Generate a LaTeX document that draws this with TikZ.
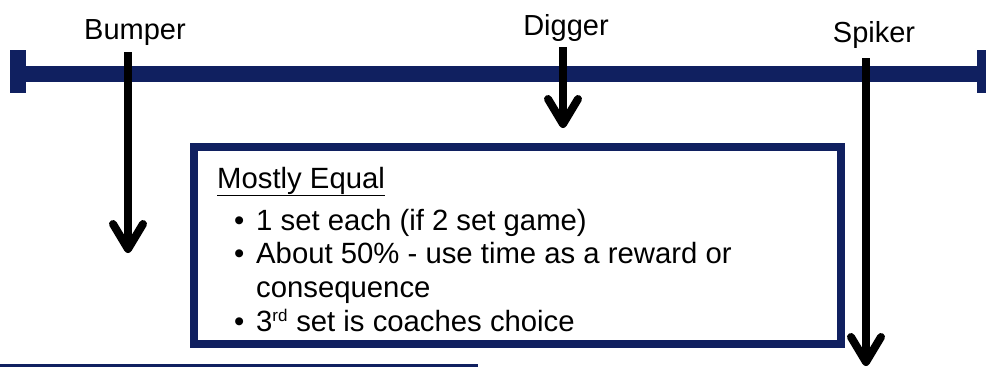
\documentclass[tikz,border=0pt]{standalone}
\usepackage{fontspec}
\setmainfont{Liberation Sans}
\usetikzlibrary{arrows.meta}
\definecolor{navy}{RGB}{16,32,96}
\tikzset{
  droparrow/.style={line width=8pt, black,
    -{Straight Barb[length=25pt, width=30pt, round]}},
  poslabel/.style={font=\fontsize{29}{34}\selectfont, anchor=base, inner sep=0pt},
  boxtext/.style={font=\fontsize{29.3}{34}\selectfont, anchor=base west, inner sep=0pt},
  framebox/.style={draw=navy, line width=8pt, fill=white, inner sep=0pt},
}
\begin{document}
\begin{tikzpicture}[x=1pt, y=-1pt]
\useasboundingbox (0,0) rectangle (986,367);

% timeline bar with end stops
\fill[navy] (26,66) rectangle (977,82);
\fill[navy] (10,50) rectangle (26,93);
\fill[navy] (977,50) rectangle (986,93);

% position labels
\node[poslabel] (bumper) at (135,39) {Bumper};
\node[poslabel] (digger) at (566,35) {Digger};
\node[poslabel] (spiker) at (874,42) {Spiker};

% content box
\node[framebox, minimum width=647pt, minimum height=197pt] (box) at (517.5,245.5) {};

% box text
\node[boxtext] (title) at (217,188) {\underline{Mostly Equal}};
\node[boxtext] (b1) at (234,230) {\textbullet};
\node[boxtext] (t1) at (256,230) {1 set each (if 2 set game)};
\node[boxtext] (b2) at (234,263) {\textbullet};
\node[boxtext] (t2) at (256,263) {About 50\% - use time as a reward or};
\node[boxtext] (t3) at (256,297) {consequence};
\node[boxtext] (b4) at (234,331) {\textbullet};
\node[boxtext] (t4) at (256,331) {3\textsuperscript{\fontsize{17}{17}\selectfont rd} set is coaches choice};

% arrows dropping from the timeline
\coordinate (bumperTop) at (128,52);
\coordinate (bumperEnd) at (128,253);
\coordinate (diggerTop) at (563,47);
\coordinate (diggerEnd) at (563,128);
\coordinate (spikerTop) at (866,58);
\coordinate (spikerEnd) at (866,366);
\draw[droparrow] (bumperTop) -- (bumperEnd);
\draw[droparrow] (diggerTop) -- (diggerEnd);
\draw[droparrow] (spikerTop) -- (spikerEnd);

% rule along the bottom
\fill[navy] (0,364) rectangle (478,367);
\end{tikzpicture}
\end{document}
